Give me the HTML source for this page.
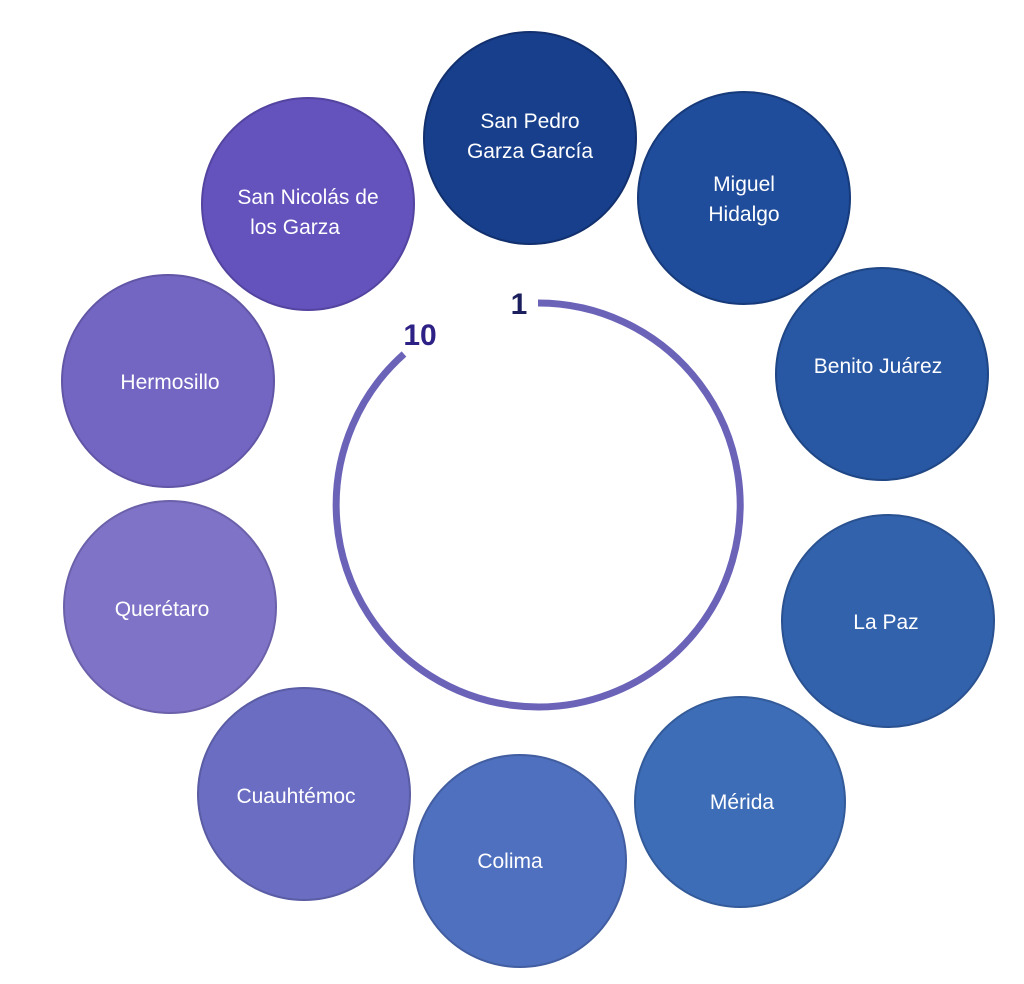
<!DOCTYPE html>
<html><head><meta charset="utf-8"><style>
html,body{margin:0;padding:0;background:#fff;}
svg{display:block}
text{font-family:"Liberation Sans",Arial,sans-serif;}
.c text{fill:#fff;font-size:21px;text-anchor:middle;}
</style></head><body>
<svg width="1024" height="984" viewBox="0 0 1024 984">
<path d="M538 303 A202 202 0 1 1 404 354" fill="none" stroke="#6a63b8" stroke-width="7"/>
<text x="519" y="314" font-size="30" font-weight="bold" fill="#1c1f5e" text-anchor="middle">1</text>
<text x="420" y="345" font-size="30" font-weight="bold" fill="#2e2185" text-anchor="middle">10</text>
<g class="c">
<circle cx="530" cy="138" r="106" fill="#173f8c" stroke="#12306e" stroke-width="2"/>
<text x="530" y="128">San Pedro</text><text x="530" y="158">Garza García</text>
<circle cx="744" cy="198" r="106" fill="#1f4c9b" stroke="#173b7a" stroke-width="2"/>
<text x="744" y="191">Miguel</text><text x="744" y="221">Hidalgo</text>
<circle cx="882" cy="374" r="106" fill="#2857a4" stroke="#1f4685" stroke-width="2"/>
<text x="878" y="373">Benito Juárez</text>
<circle cx="888" cy="621" r="106" fill="#3362ad" stroke="#2a5190" stroke-width="2"/>
<text x="886" y="629">La Paz</text>
<circle cx="740" cy="802" r="105" fill="#3e6db7" stroke="#335b9a" stroke-width="2"/>
<text x="742" y="809">Mérida</text>
<circle cx="520" cy="861" r="106" fill="#4f70bf" stroke="#425ea1" stroke-width="2"/>
<text x="510" y="868">Colima</text>
<circle cx="304" cy="794" r="106" fill="#6a6dc1" stroke="#5a5ca4" stroke-width="2"/>
<text x="296" y="803">Cuauhtémoc</text>
<circle cx="170" cy="607" r="106" fill="#7e73c7" stroke="#6b61aa" stroke-width="2"/>
<text x="162" y="616">Querétaro</text>
<circle cx="168" cy="381" r="106" fill="#7366c3" stroke="#6156a6" stroke-width="2"/>
<text x="170" y="389">Hermosillo</text>
<circle cx="308" cy="204" r="106" fill="#6452bd" stroke="#5444a0" stroke-width="2"/>
<text x="308" y="204">San Nicolás de</text><text x="295" y="234">los Garza</text>
</g>
</svg>
</body></html>
